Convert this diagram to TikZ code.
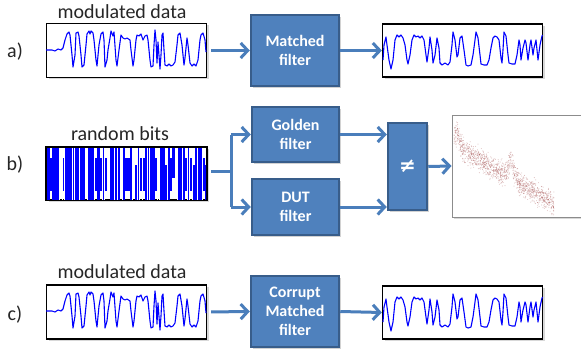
\documentclass[tikz,border=0pt]{standalone}
\usepackage{fontspec}
\setmainfont{Carlito}
\newfontfamily\symfont{DejaVu Sans}
\usetikzlibrary{arrows.meta,shadows,calc}
\definecolor{boxfill}{HTML}{4F81BD}
\definecolor{boxline}{HTML}{385D8A}
\definecolor{arrowcol}{HTML}{4A7EBB}
\definecolor{wavecol}{HTML}{0000FF}
\definecolor{dotcol}{HTML}{9A3A3A}
\tikzset{
  fbox/.style={draw=boxline, fill=boxfill, line width=2.5pt, text=white,
    align=center, font=\fontsize{16}{19}\selectfont\bfseries,
    drop shadow={shadow xshift=1.5pt, shadow yshift=-2pt, opacity=0.35}},
  sigbox/.style={draw=black, fill=white, line width=1.3pt, inner sep=0pt,
    drop shadow={shadow xshift=2pt, shadow yshift=-2pt, opacity=0.3}},
  caption/.style={font=\fontsize{20}{24}\selectfont, text=black!85},
  flow/.style={draw=arrowcol, line width=3pt},
  arr/.style={flow, -{Straight Barb[length=7pt, width=15pt]}},
  wavestyle/.style={draw=wavecol, line width=1.1pt, line join=round},
  inwave/.pic={
    \draw[wavestyle] (46,50)--(52,50)--(55,51)--(58,49)--(61,50)--(63,48)--(65,40)--(67,34)--(69,32)--(70,35)--(72,55)--(73,67)--(75,55)--(76,33)--(78,32)--(79,36)--(81,55)--(82,67)--(84,65)--(86,45)--(87,34)--(89,31)--(90,34)--(91,31)--(93,33)--(94,40)--(96,60)--(97,66)--(99,45)--(101,34)--(103,32)--(104,40)--(105,67)--(107,60)--(108,50)--(110,38)--(111,31)--(113,36)--(114,32)--(116,60)--(117,66)--(119,50)--(121,35)--(123,38)--(125,39)--(127,38)--(130,40)--(131,50)--(133,66)--(134,60)--(136,40)--(137,35)--(139,36)--(141,34)--(143,40)--(145,36)--(147,35)--(148,40)--(150,60)--(151,67)--(153,66)--(154,45)--(155,30)--(156,40)--(157,63)--(158,42)--(160,69)--(161,55)--(162,35)--(163,33)--(164,50)--(165,65)--(167,66)--(169,64)--(171,66)--(173,65)--(175,62)--(177,45)--(178,35)--(180,33)--(182,45)--(184,65)--(185,58)--(187,38)--(188,45)--(190,63)--(192,66)--(194,64)--(196,66)--(198,60)--(200,40)--(201,35)--(203,33)--(205,40)--(206,52);
  },
  outwave/.pic={
    \draw[wavestyle] (383,60)--(384,45)--(386,37)--(387,45)--(389,60)--(391,69)--(393,60)--(395,40)--(397,35)--(399,37)--(401,35)--(403,38)--(405,45)--(407,60)--(408,64)--(410,55)--(412,40)--(414,35)--(416,37)--(418,36)--(420,38)--(422,36)--(424,40)--(426,55)--(427,62)--(429,48)--(430,37)--(432,50)--(433,63)--(435,55)--(437,38)--(439,48)--(440,63)--(442,65)--(445,63)--(448,65)--(450,62)--(452,45)--(453,32)--(455,40)--(457,57)--(458,55)--(460,38)--(462,36)--(464,50)--(466,65)--(468,66)--(471,65)--(473,55)--(475,40)--(476,32)--(478,38)--(480,55)--(481,64)--(484,65)--(487,65)--(489,60)--(491,48)--(493,38)--(495,36)--(497,37)--(499,40)--(501,58)--(502,63)--(503,50)--(504,32)--(506,36)--(508,55)--(509,63)--(512,64)--(515,64)--(517,55)--(519,40)--(520,45)--(521,60)--(523,48)--(525,40)--(526,43)--(528,60)--(530,45)--(531,40)--(533,55)--(534,48)--(536,40)--(538,60)--(540,45)--(542,36)--(542.5,35);
  }
}
\begin{document}
\begin{tikzpicture}[x=1pt, y=-1pt]
\useasboundingbox (0,0) rectangle (581,353);
\fill[white] (0,0) rectangle (581,353);

% row labels
\node[caption] (la) at (15,52) {a)};
\node[caption] (lb) at (15,165) {b)};
\node[caption] (lc) at (15,315) {c)};

% ---------- row a ----------
\node[caption] (ta) at (122,12) {modulated data};
\node[sigbox, minimum width=160, minimum height=54] (ina) at (126.5,50.5) {};
\pic at (0,0) {inwave};
\node[fbox, minimum width=88, minimum height=71] (mf) at (295,50.5) {Matched\\filter};
\node[sigbox, minimum width=160, minimum height=53] (outa) at (462.5,50.5) {};
\pic at (0,0) {outwave};
\draw[arr, shorten <=4pt] (ina.east) -- (mf.west);
\draw[arr] (mf.east) -- (outa.west);

% ---------- row b ----------
\node[caption] (tb) at (120,134) {random bits};
\node[sigbox, minimum width=160, minimum height=53] (bits) at (126.5,173.5) {};
\begin{scope}
  \clip (47,148) rectangle (206,199);
  \pgfmathsetseed{4242}
  % bit bars, one slot every 2.5pt
  \foreach \i in {0,...,64}{
    \pgfmathsetmacro\bx{47+2.5*\i}
    \pgfmathsetmacro\bxr{\bx+2.55}
    \pgfmathsetmacro\r{rnd}
    \ifdim\r pt<0.55pt
      \fill[wavecol] (\bx,147) rectangle (\bxr,200);
    \else\ifdim\r pt<0.70pt
      \fill[wavecol] (\bx,158) rectangle (\bxr,191);
    \else\ifdim\r pt<0.75pt
      \fill[wavecol] (\bx,147) rectangle (\bxr,178);
    \else\ifdim\r pt<0.80pt
      \fill[wavecol] (\bx,165) rectangle (\bxr,200);
    \fi\fi\fi\fi
  }
  % thin white separations between neighbouring bars
  \pgfmathsetseed{77}
  \foreach \i in {1,...,64}{
    \pgfmathsetmacro\bx{47+2.5*\i}
    \pgfmathsetmacro\r{rnd}
    \ifdim\r pt<0.45pt
      \fill[white] (\bx-0.45,147) rectangle (\bx+0.45,200);
    \fi
  }
\end{scope}
\draw[black, line width=1.3pt] (bits.north west) rectangle (bits.south east);

\node[fbox, minimum width=87, minimum height=55] (gold) at (295.5,134.5) {Golden\\filter};
\node[fbox, minimum width=87, minimum height=56] (dut) at (295.5,207) {DUT\\filter};
\node[fbox, minimum width=39, minimum height=87, font=\symfont\fontsize{20}{24}\selectfont\bfseries] (ne) at (407.5,166.5) {≠};

\coordinate (split) at (231,171);
\draw[flow, shorten <=4pt] (bits.east |- split) -- (split);
\draw[flow] (split) -- (split |- gold.west);
\draw[flow] (split) -- (split |- dut.west);
\draw[arr] (split |- gold.west) -- (gold.west);
\draw[arr] (split |- dut.west) -- (dut.west);
\draw[arr] (gold.east) -- (gold.east -| ne.west);
\draw[arr] (dut.east) -- (dut.east -| ne.west);

% scatter of differences
\node[draw=black!45, fill=white, line width=1pt, minimum width=140, minimum height=102,
  drop shadow={shadow xshift=1.5pt, shadow yshift=-1.5pt, opacity=0.3}] (plot) at (522,166) {};
\begin{scope}
  \pgfmathsetseed{123}
  \foreach \k in {1,...,1300}{
    \pgfmathsetmacro\px{454+100*rnd}
    \pgfmathsetmacro\pc{146+0.58*(\px-455)-16*exp(-((\px-511)/4)^2)-14*exp(-((\px-457)/4)^2)}
    \pgfmathsetmacro\py{\pc+11*(rnd+rnd+rnd-1.5)}
    \fill[dotcol, opacity=0.4] (\px,\py) circle (0.45);
  }
\end{scope}
\draw[arr] (ne.east) -- (plot.west);

% ---------- row c ----------
\node[caption] (tc) at (122,272) {modulated data};
\node[sigbox, minimum width=160, minimum height=54] (inc) at (126.5,312) {};
\pic at (0,261) {inwave};
\node[fbox, minimum width=88, minimum height=71] (cmf) at (295,311.5) {Corrupt\\Matched\\filter};
\node[sigbox, minimum width=160, minimum height=53] (outc) at (462.5,312.5) {};
\pic at (0,262) {outwave};
\draw[arr, shorten <=4pt] (inc.east) -- (cmf.west);
\draw[arr] (cmf.east) -- (outc.west);
\end{tikzpicture}
\end{document}
